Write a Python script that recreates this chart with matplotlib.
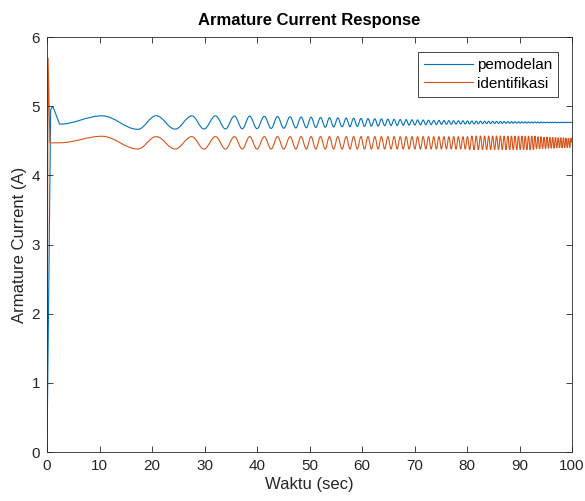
import numpy as np
import matplotlib
matplotlib.use('Agg')
import matplotlib.pyplot as plt
from matplotlib.path import Path
from matplotlib.patches import PathPatch
from matplotlib.lines import Line2D

plt.rcParams['font.family'] = ['Liberation Sans', 'DejaVu Sans']

# start-up transient (straight segments)
blue_start_t = [0.0, 0.7, 1.1]
blue_start_v = [0.0, 4.95, 5.0]
orange_start_t = [0.0, 0.2, 0.55]
orange_start_v = [0.0, 5.7, 4.47]

# oscillation extrema (troughs and peaks alternate, trough first)
trough_t = [2.4, 17.3, 24.4, 29.9, 34.0, 37.2, 40.0, 42.7, 45.1, 47.4, 49.4, 51.2, 53.0, 54.6,
            56.2, 57.7, 59.1, 60.47, 61.79, 63.07, 64.32, 65.53, 66.70, 67.85, 68.97, 70.06,
            71.12, 72.16, 73.17, 74.16, 75.13, 76.08, 77.00, 77.91, 78.80, 79.66, 80.51, 81.35,
            82.16, 82.96, 83.74, 84.51, 85.26, 86.00, 86.72, 87.43, 88.13, 88.81, 89.48, 90.14,
            90.78, 91.41, 92.03, 92.64, 93.24, 93.82, 94.40, 94.96, 95.51, 96.05, 96.59, 97.11,
            97.62, 98.12, 98.62, 99.10, 99.57]
peak_t = [10.5, 20.8, 27.6, 32.1, 35.7, 38.6, 41.4, 43.9, 46.3, 48.4, 50.3, 52.1, 53.8, 55.4,
          57.0, 58.4, 59.8, 61.14, 62.44, 63.70, 64.93, 66.12, 67.28, 68.41, 69.52, 70.59,
          71.65, 72.67, 73.67, 74.65, 75.61, 76.54, 77.46, 78.36, 79.23, 80.09, 80.93, 81.76,
          82.56, 83.35, 84.13, 84.89, 85.63, 86.36, 87.08, 87.78, 88.47, 89.15, 89.81, 90.46,
          91.10, 91.72, 92.34, 92.94, 93.53, 94.11, 94.68, 95.24, 95.78, 96.32, 96.85, 97.37,
          97.87, 98.37, 98.86, 99.34, 99.80]

blue_trough = [4.74, 4.665, 4.668, 4.67, 4.671, 4.673, 4.675, 4.678, 4.681, 4.685, 4.688, 4.692,
               4.696, 4.699, 4.702, 4.704, 4.706, 4.708, 4.711, 4.714, 4.717, 4.720, 4.722, 4.724,
               4.726, 4.728, 4.730, 4.732, 4.734, 4.735, 4.737, 4.738, 4.739, 4.740, 4.741, 4.742,
               4.743, 4.744, 4.745, 4.746, 4.747, 4.748, 4.749, 4.750, 4.751, 4.752, 4.753, 4.754,
               4.755, 4.755, 4.756, 4.756, 4.757, 4.757, 4.758, 4.758, 4.759, 4.759, 4.760, 4.760,
               4.760, 4.761, 4.761, 4.761, 4.761, 4.762, 4.762]
blue_peak = [4.86, 4.862, 4.86, 4.86, 4.858, 4.856, 4.853, 4.85, 4.847, 4.843, 4.84, 4.836,
             4.832, 4.83, 4.827, 4.825, 4.823, 4.821, 4.818, 4.815, 4.812, 4.810, 4.807, 4.805,
             4.803, 4.801, 4.799, 4.797, 4.795, 4.794, 4.792, 4.791, 4.790, 4.789, 4.788, 4.787,
             4.786, 4.785, 4.784, 4.783, 4.782, 4.781, 4.780, 4.779, 4.778, 4.777, 4.776, 4.775,
             4.774, 4.774, 4.773, 4.773, 4.772, 4.772, 4.771, 4.771, 4.770, 4.770, 4.769, 4.769,
             4.769, 4.768, 4.768, 4.768, 4.768, 4.767, 4.767]

orange_trough = [4.47, 4.38, 4.38, 4.38, 4.38, 4.38, 4.38, 4.38, 4.38, 4.38, 4.38, 4.38,
                 4.38, 4.38, 4.38, 4.38, 4.38, 4.38, 4.38, 4.38, 4.38, 4.38, 4.38, 4.38,
                 4.38, 4.38, 4.38, 4.38, 4.38, 4.38, 4.38, 4.38, 4.38, 4.38, 4.38, 4.38,
                 4.37, 4.37, 4.37, 4.37, 4.37, 4.37, 4.37, 4.37, 4.37, 4.37, 4.37, 4.37,
                 4.37, 4.37, 4.37, 4.37, 4.37, 4.37, 4.38, 4.38, 4.385, 4.385, 4.39, 4.39,
                 4.39, 4.395, 4.395, 4.395, 4.40, 4.40, 4.40]
orange_peak = [4.565, 4.56, 4.56, 4.56, 4.56, 4.56, 4.56, 4.56, 4.56, 4.56, 4.56, 4.56,
               4.56, 4.56, 4.56, 4.56, 4.56, 4.56, 4.56, 4.56, 4.56, 4.56, 4.56, 4.56,
               4.56, 4.56, 4.56, 4.56, 4.56, 4.56, 4.56, 4.56, 4.56, 4.56, 4.56, 4.56,
               4.57, 4.57, 4.57, 4.57, 4.57, 4.57, 4.57, 4.57, 4.57, 4.57, 4.57, 4.57,
               4.57, 4.57, 4.57, 4.57, 4.57, 4.57, 4.56, 4.56, 4.555, 4.555, 4.55, 4.55,
               4.55, 4.545, 4.545, 4.545, 4.54, 4.54, 4.54]

end_t = 100.0
blue_end = 4.765
orange_end = 4.47


def build(start_t, start_v, lows, highs, end_v):
    # transient as straight segments, then smooth half-waves between extrema
    verts = [(start_t[0], start_v[0])]
    codes = [Path.MOVETO]
    for t, v in zip(start_t[1:], start_v[1:]):
        verts.append((t, v))
        codes.append(Path.LINETO)
    ext_t, ext_v = [], []
    for i in range(len(trough_t)):
        ext_t += [trough_t[i], peak_t[i]]
        ext_v += [lows[i], highs[i]]
    ext_t.append(end_t)
    ext_v.append(end_v)
    verts.append((ext_t[0], ext_v[0]))
    codes.append(Path.LINETO)
    for k in range(1, len(ext_t)):
        x0, y0 = ext_t[k - 1], ext_v[k - 1]
        x1, y1 = ext_t[k], ext_v[k]
        h = 0.3634 * (x1 - x0)
        verts += [(x0 + h, y0), (x1 - h, y1), (x1, y1)]
        codes += [Path.CURVE4] * 3
    return Path(verts, codes)


blue_c = '#0072BD'
orange_c = '#D95319'
ink = '#262626'

fig = plt.figure(figsize=(5.85, 5.01), dpi=100)
ax = fig.add_axes([47 / 585, 1 - 452 / 501, 525 / 585, 415 / 501])

ax.add_patch(PathPatch(build(blue_start_t, blue_start_v, blue_trough, blue_peak, blue_end),
                       fill=False, edgecolor=blue_c, lw=0.8))
ax.add_patch(PathPatch(build(orange_start_t, orange_start_v, orange_trough, orange_peak, orange_end),
                       fill=False, edgecolor=orange_c, lw=0.8))

ax.set_xlim(0, 100)
ax.set_ylim(0, 6)
ax.set_xticks(np.arange(0, 101, 10))
ax.set_yticks(np.arange(0, 7, 1))
ax.tick_params(direction='in', top=True, right=True, length=4.5, width=0.6,
               colors=ink, labelsize=11, pad=5)
for s in ax.spines.values():
    s.set_color(ink)
    s.set_linewidth(0.6)

ax.set_xlabel('Waktu (sec)', fontsize=12, color=ink, labelpad=3)
ax.set_ylabel('Armature Current (A)', fontsize=12, color=ink, labelpad=3)
ax.set_title('Armature Current Response', fontsize=12, fontweight='bold', color='black', pad=9)

handles = [Line2D([], [], color=blue_c, lw=0.8), Line2D([], [], color=orange_c, lw=0.8)]
leg = ax.legend(handles, ['pemodelan', 'identifikasi'], loc='upper right',
                bbox_to_anchor=(0.9733, 0.9639), borderaxespad=0, fontsize=11,
                handlelength=3.2, handletextpad=0.25, labelspacing=0.3, borderpad=0.4,
                fancybox=False, framealpha=1, edgecolor=ink)
leg.get_frame().set_linewidth(0.6)

fig.savefig('out.png', dpi=100)
